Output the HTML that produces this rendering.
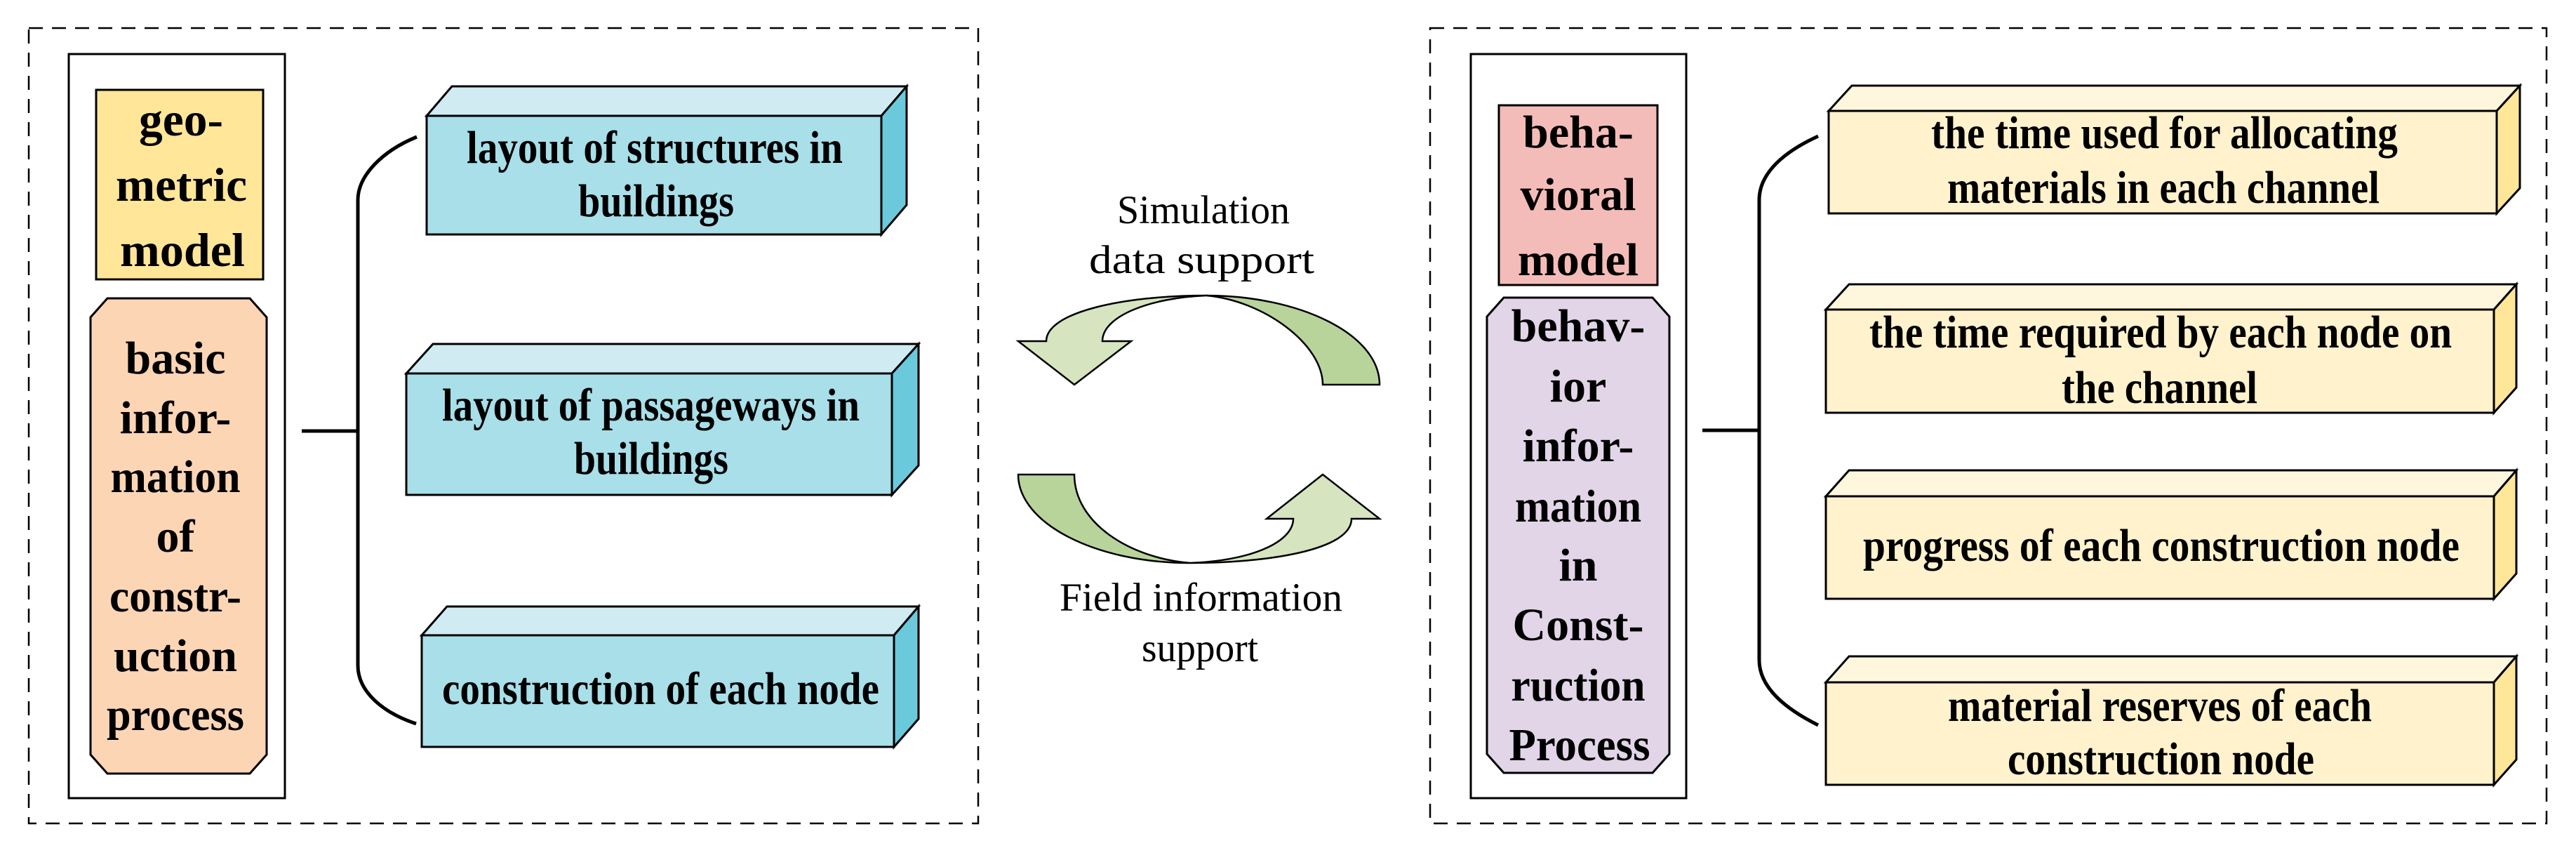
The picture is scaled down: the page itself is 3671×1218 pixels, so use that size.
<!DOCTYPE html>
<html><head><meta charset="utf-8"><style>html,body{margin:0;padding:0;background:#fff}svg{display:block}</style></head>
<body>
<svg width="3671" height="1218" viewBox="0 0 3671 1218" xmlns="http://www.w3.org/2000/svg">
<g fill="none" stroke="#000" stroke-width="2.5" stroke-dasharray="20,13">
<rect x="41" y="40" width="1353" height="1133"/>
<rect x="2038" y="40" width="1591" height="1133"/>
</g>
<g stroke="#000" stroke-width="3">
<rect x="98" y="77" width="308" height="1060" fill="#fff"/>
<rect x="137" y="128" width="238" height="270" fill="#ffe699"/>
<polygon points="153,425 356,425 380,452 380,1075 356,1102 153,1102 129,1075 129,452" fill="#fcd5b5"/>
<rect x="2096" y="77" width="307" height="1060" fill="#fff"/>
<rect x="2136" y="150" width="226" height="256" fill="#f4bcb8"/>
<polygon points="2143,424 2355,424 2379,451 2379,1074 2355,1101 2143,1101 2119,1074 2119,451" fill="#e1d5e7"/>
</g>
<g fill="none" stroke="#000" stroke-width="5">
<path d="M430,614 L510,614"/>
<path d="M594,195 C545,215 510,250 510,285 L510,948 C510,985 545,1015 593,1031"/>
<path d="M2426,613 L2507,613"/>
<path d="M2591,194 C2545,215 2507,245 2507,285 L2507,940 C2507,980 2545,1010 2591,1033"/>
</g>
<g stroke="#000" stroke-width="3">
<polygon points="608,165 644,123 1292,123 1256,165" fill="#d0ecf2"/>
<polygon points="1256,165 1292,123 1292,292 1256,334" fill="#6bc9dc"/>
<rect x="608" y="165" width="648" height="169" fill="#a8dfe9"/>
<polygon points="579,532 617,490 1309,490 1271,532" fill="#d0ecf2"/>
<polygon points="1271,532 1309,490 1309,663 1271,705" fill="#6bc9dc"/>
<rect x="579" y="532" width="692" height="173" fill="#a8dfe9"/>
<polygon points="601,905 637,864 1309,864 1274,905" fill="#d0ecf2"/>
<polygon points="1274,905 1309,864 1309,1024 1274,1064" fill="#6bc9dc"/>
<rect x="601" y="905" width="673" height="159" fill="#a8dfe9"/>
<polygon points="2606,158 2639,122 3591,122 3558,158" fill="#fff7dd"/>
<polygon points="3558,158 3591,122 3591,268 3558,304" fill="#ffe699"/>
<rect x="2606" y="158" width="952" height="146" fill="#fff2cc"/>
<polygon points="2602,441 2635,405 3586,405 3554,441" fill="#fff7dd"/>
<polygon points="3554,441 3586,405 3586,552 3554,588" fill="#ffe699"/>
<rect x="2602" y="441" width="952" height="147" fill="#fff2cc"/>
<polygon points="2602,707 2635,670 3586,670 3554,707" fill="#fff7dd"/>
<polygon points="3554,707 3586,670 3586,817 3554,853" fill="#ffe699"/>
<rect x="2602" y="707" width="952" height="146" fill="#fff2cc"/>
<polygon points="2602,972 2635,935 3586,935 3554,972" fill="#fff7dd"/>
<polygon points="3554,972 3586,935 3586,1082 3554,1118" fill="#ffe699"/>
<rect x="2602" y="972" width="952" height="146" fill="#fff2cc"/>
</g>
<g stroke="#000" stroke-width="2.5">
<path d="M1451,486 L1491,486 C1491,445 1600,421 1719,421 C1640,424 1571,450 1571,486 L1612,486 L1531,548 Z" fill="#d6e4c0"/>
<path d="M1719,421 C1850,421 1966,475 1966,548 L1885,548 C1885,490 1800,428 1719,421 Z" fill="#b8d49b"/>
<path d="M1451,676 L1531,676 C1531,745 1610,795 1696,802 C1560,802 1451,745 1451,676 Z" fill="#b8d49b"/>
<path d="M1696,802 C1790,798 1843,770 1843,739 L1805,739 L1885,676 L1966,739 L1926,739 C1926,785 1800,802 1696,802 Z" fill="#d6e4c0"/>
</g>
<g font-family="Liberation Serif, serif" font-size="57" fill="#000">
<text x="1592" y="318" textLength="246" lengthAdjust="spacingAndGlyphs">Simulation</text>
<text x="1552" y="389" textLength="321" lengthAdjust="spacingAndGlyphs">data support</text>
<text x="1510" y="870" textLength="403" lengthAdjust="spacingAndGlyphs">Field information</text>
<text x="1627" y="942" textLength="166" lengthAdjust="spacingAndGlyphs">support</text>
</g>
<g font-family="Liberation Serif, serif" font-weight="bold" font-size="68" fill="#000">
<text x="198" y="193" textLength="120" lengthAdjust="spacingAndGlyphs">geo-</text>
<text x="165" y="286" textLength="187" lengthAdjust="spacingAndGlyphs">metric</text>
<text x="171" y="379" textLength="178" lengthAdjust="spacingAndGlyphs">model</text>
</g>
<g font-family="Liberation Serif, serif" font-weight="bold" font-size="66" fill="#000" text-anchor="middle">
<text x="250" y="532">basic</text>
<text x="250" y="617">infor-</text>
<text x="250" y="701" textLength="185" lengthAdjust="spacingAndGlyphs">mation</text>
<text x="250" y="786">of</text>
<text x="250" y="871" textLength="188" lengthAdjust="spacingAndGlyphs">constr-</text>
<text x="250" y="956">uction</text>
<text x="250" y="1040" textLength="196" lengthAdjust="spacingAndGlyphs">process</text>
<text x="2249" y="210">beha-</text>
<text x="2249" y="299">vioral</text>
<text x="2249" y="392">model</text>
<text x="2249" y="486">behav-</text>
<text x="2249" y="572">ior</text>
<text x="2249" y="657">infor-</text>
<text x="2249" y="743" textLength="180" lengthAdjust="spacingAndGlyphs">mation</text>
<text x="2249" y="827">in</text>
<text x="2249" y="912">Const-</text>
<text x="2249" y="998" textLength="191" lengthAdjust="spacingAndGlyphs">ruction</text>
<text x="2251" y="1083" textLength="201" lengthAdjust="spacingAndGlyphs">Process</text>
</g>
<g font-family="Liberation Serif, serif" font-weight="bold" font-size="66" fill="#000">
<text x="665" y="232" textLength="536" lengthAdjust="spacingAndGlyphs">layout of structures in</text>
<text x="824" y="308" textLength="222" lengthAdjust="spacingAndGlyphs">buildings</text>
<text x="630" y="599" textLength="595" lengthAdjust="spacingAndGlyphs">layout of passageways in</text>
<text x="818" y="675" textLength="220" lengthAdjust="spacingAndGlyphs">buildings</text>
<text x="630" y="1003" textLength="623" lengthAdjust="spacingAndGlyphs">construction of each node</text>
<text x="2752" y="211" textLength="665" lengthAdjust="spacingAndGlyphs">the time used for allocating</text>
<text x="2775" y="289" textLength="616" lengthAdjust="spacingAndGlyphs">materials in each channel</text>
<text x="2664" y="495" textLength="830" lengthAdjust="spacingAndGlyphs">the time required by each node on</text>
<text x="2938" y="574" textLength="279" lengthAdjust="spacingAndGlyphs">the channel</text>
<text x="2655" y="799" textLength="850" lengthAdjust="spacingAndGlyphs">progress of each construction node</text>
<text x="2776" y="1027" textLength="604" lengthAdjust="spacingAndGlyphs">material reserves of each</text>
<text x="2861" y="1103" textLength="437" lengthAdjust="spacingAndGlyphs">construction node</text>
</g>
</svg>
</body></html>
